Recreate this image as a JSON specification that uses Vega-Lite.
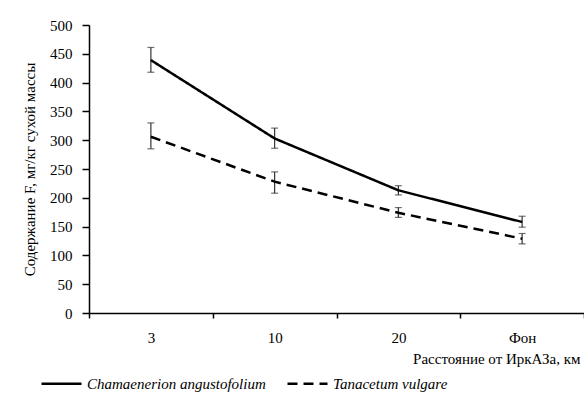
{
  "$schema": "https://vega.github.io/schema/vega-lite/v6.json",
  "width": 495,
  "height": 288,
  "autosize": "none",
  "padding": {"left": 89, "top": 25, "right": 0, "bottom": 90},
  "background": "white",
  "config": {
    "view": {"stroke": null},
    "axisY": {
      "domainColor": "black",
      "domainWidth": 1.5,
      "tickColor": "black",
      "tickWidth": 1.5,
      "labelColor": "black",
      "titleColor": "black",
      "labelFont": "Liberation Serif",
      "titleFont": "Liberation Serif",
      "labelFontSize": 15,
      "titleFontSize": 15,
      "titleFontWeight": "normal",
      "labelOverlap": false,
      "grid": false,
      "values": [0, 50, 100, 150, 200, 250, 300, 350, 400, 450, 500],
      "tickSize": 7,
      "labelPadding": 10,
      "titlePadding": 12
    },
    "axisX": {
      "domainColor": "black",
      "domainWidth": 1.5,
      "tickColor": "black",
      "tickWidth": 1.5,
      "labelColor": "black",
      "titleColor": "black",
      "labelFont": "Liberation Serif",
      "titleFont": "Liberation Serif",
      "labelFontSize": 15,
      "titleFontSize": 15,
      "titleFontWeight": "normal",
      "grid": false
    },
    "legend": {
      "labelFont": "Liberation Serif",
      "labelFontSize": 15,
      "labelFontStyle": "italic",
      "labelColor": "black"
    }
  },
  "data": {
    "values": [
      {"d": "3", "s": "Chamaenerion angustofolium", "v": 439, "lo": 418, "hi": 461},
      {"d": "10", "s": "Chamaenerion angustofolium", "v": 303, "lo": 286, "hi": 321},
      {"d": "20", "s": "Chamaenerion angustofolium", "v": 213, "lo": 205, "hi": 221},
      {"d": "Фон", "s": "Chamaenerion angustofolium", "v": 158, "lo": 149, "hi": 168},
      {"d": "3", "s": "Tanacetum vulgare", "v": 306, "lo": 285, "hi": 330},
      {"d": "10", "s": "Tanacetum vulgare", "v": 228, "lo": 208, "hi": 245},
      {"d": "20", "s": "Tanacetum vulgare", "v": 174, "lo": 166, "hi": 183},
      {"d": "Фон", "s": "Tanacetum vulgare", "v": 129, "lo": 120, "hi": 138}
    ]
  },
  "encoding": {
    "x": {
      "field": "d",
      "type": "ordinal",
      "sort": ["3", "10", "20", "Фон"],
      "scale": {"paddingInner": 0, "paddingOuter": 0},
      "axis": {
        "title": "Расстояние от ИркАЗа, км",
        "labelAngle": 0,
        "tickBand": "extent",
        "tickSize": 5,
        "labelPadding": 12,
        "titleAnchor": "end",
        "titleAlign": "right",
        "titleX": 491,
        "titlePadding": 6
      }
    }
  },
  "layer": [
    {
      "mark": {"type": "rule", "color": "#333333", "strokeWidth": 1.2},
      "encoding": {
        "y": {
          "field": "lo",
          "type": "quantitative",
          "scale": {"domain": [0, 500], "nice": false},
          "axis": {"title": "Содержание F,  мг/кг сухой массы"}
        },
        "y2": {"field": "hi"},
        "detail": {"field": "s"}
      }
    },
    {
      "mark": {"type": "tick", "color": "#333333", "thickness": 1.2, "size": 7, "orient": "horizontal"},
      "encoding": {
        "y": {
          "field": "lo",
          "type": "quantitative",
          "axis": {"title": "Содержание F,  мг/кг сухой массы"}
        },
        "detail": {"field": "s"}
      }
    },
    {
      "mark": {"type": "tick", "color": "#333333", "thickness": 1.2, "size": 7, "orient": "horizontal"},
      "encoding": {
        "y": {
          "field": "hi",
          "type": "quantitative",
          "axis": {"title": "Содержание F,  мг/кг сухой массы"}
        },
        "detail": {"field": "s"}
      }
    },
    {
      "mark": {"type": "line", "color": "black", "strokeWidth": 2.5},
      "encoding": {
        "y": {
          "field": "v",
          "type": "quantitative",
          "axis": {"title": "Содержание F,  мг/кг сухой массы"}
        },
        "strokeDash": {
          "field": "s",
          "type": "nominal",
          "scale": {
            "domain": ["Chamaenerion angustofolium", "Tanacetum vulgare"],
            "range": [[1, 0], [10, 6]]
          },
          "legend": {
            "title": null,
            "orient": "none",
            "direction": "horizontal",
            "legendX": -49,
            "legendY": 337,
            "symbolType": "stroke",
            "symbolSize": 1600,
            "symbolStrokeWidth": 2.5,
            "symbolStrokeColor": "black",
            "labelLimit": 400,
            "columnPadding": 16,
            "labelOffset": 4
          }
        }
      }
    }
  ]
}
